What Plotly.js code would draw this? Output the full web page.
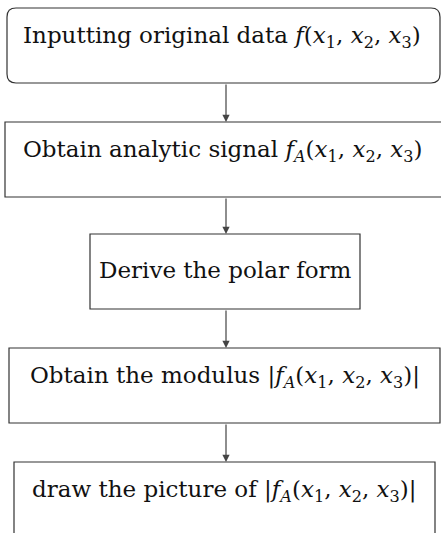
<!DOCTYPE html>
<html>
<head>
<meta charset="utf-8">
<script src="https://cdn.plot.ly/plotly-3.0.1.min.js"></script>
<style>html,body{margin:0;padding:0;background:#fff;}#chart{width:441px;height:533px;}</style>
</head>
<body>
<div id="chart"></div>
<script>
// Flowchart steps (text content)
var stepLabels = [
  "Inputting original data <i>f</i>(<i>x</i><sub>1</sub>, <i>x</i><sub>2</sub>, <i>x</i><sub>3</sub>)",
  "Obtain analytic signal <i>f<sub>A</sub></i>(<i>x</i><sub>1</sub>, <i>x</i><sub>2</sub>, <i>x</i><sub>3</sub>)",
  "Derive the polar form",
  "Obtain the modulus |<i>f<sub>A</sub></i>(<i>x</i><sub>1</sub>, <i>x</i><sub>2</sub>, <i>x</i><sub>3</sub>)|",
  "draw the picture of |<i>f<sub>A</sub></i>(<i>x</i><sub>1</sub>, <i>x</i><sub>2</sub>, <i>x</i><sub>3</sub>)|"
];
var stepRounded = [true, false, false, false, false];

// Box geometry (layout, in pixel-like data units)
var boxLeft   = [7, 5, 90, 9, 14];
var boxRight  = [440, 445, 360, 440, 435];
var boxTop    = [8, 122, 234, 348, 462];
var boxHeight = 75;
var centerX = 226;

var shapes = [];
var annotations = [];
var lineColor = "#333333";

for (var i = 0; i < stepLabels.length; i++) {
  var x0 = boxLeft[i], x1 = boxRight[i], y0 = boxTop[i], y1 = boxTop[i] + boxHeight;
  if (stepRounded[i]) {
    var r = 9;
    var p = "M " + (x0 + r) + "," + y0 +
            " L " + (x1 - r) + "," + y0 +
            " Q " + x1 + "," + y0 + " " + x1 + "," + (y0 + r) +
            " L " + x1 + "," + (y1 - r) +
            " Q " + x1 + "," + y1 + " " + (x1 - r) + "," + y1 +
            " L " + (x0 + r) + "," + y1 +
            " Q " + x0 + "," + y1 + " " + x0 + "," + (y1 - r) +
            " L " + x0 + "," + (y0 + r) +
            " Q " + x0 + "," + y0 + " " + (x0 + r) + "," + y0 + " Z";
    shapes.push({type: "path", xref: "x", yref: "y", path: p, line: {color: lineColor, width: 1.2}});
  } else {
    shapes.push({type: "rect", xref: "x", yref: "y", x0: x0, x1: x1, y0: y0, y1: y1,
                 line: {color: lineColor, width: 1.2}});
  }
  var hasSub = stepLabels[i].indexOf("<sub>") >= 0;
  annotations.push({
    x: (x0 + Math.min(x1, 441)) / 2 + (i === 0 ? -2 : 0), y: y0 + (hasSub ? 29 : 36), xref: "x", yref: "y",
    text: stepLabels[i], showarrow: false,
    font: {family: "DejaVu Serif, serif", size: 23, color: "#111"},
    xanchor: "center", yanchor: "middle"
  });
  if (i < stepLabels.length - 1) {
    annotations.push({
      x: centerX, y: boxTop[i + 1], xref: "x", yref: "y",
      ax: centerX, ay: y1, axref: "x", ayref: "y",
      text: "", showarrow: true, arrowhead: 2, arrowsize: 1.2, arrowwidth: 1.2,
      arrowcolor: "#444", standoff: 0, startstandoff: 0
    });
  }
}

var layout = {
  width: 441, height: 533,
  margin: {l: 0, r: 0, t: 0, b: 0},
  paper_bgcolor: "#fff", plot_bgcolor: "#fff",
  xaxis: {range: [0, 441], visible: false, fixedrange: true},
  yaxis: {range: [533, 0], visible: false, fixedrange: true},
  shapes: shapes,
  annotations: annotations,
  showlegend: false
};

Plotly.newPlot("chart", [], layout, {staticPlot: true, displayModeBar: false});
</script>
</body>
</html>
